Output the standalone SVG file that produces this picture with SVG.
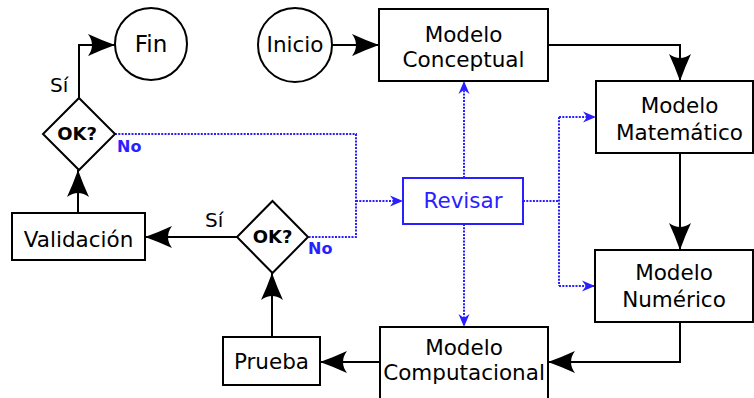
<svg xmlns="http://www.w3.org/2000/svg" width="754" height="398" viewBox="0 0 754 398">
<style>
text{font-family:"DejaVu Sans","Liberation Sans",sans-serif;text-anchor:middle}
.t{font-size:21.5px;fill:#000}
.b{fill:#fff;stroke:#000;stroke-width:2}
.bl{fill:#fff;stroke:#2a1fff;stroke-width:2}
.c{fill:none;stroke:#000;stroke-width:2}
.d{fill:none;stroke:#2a1fff;stroke-width:2;stroke-dasharray:2 1.3}
.ok{font-size:18px;font-weight:bold}
.no{font-size:16px;font-weight:bold;fill:#2a1fff;text-anchor:start}
.si{font-size:20px;text-anchor:start}
</style>
<defs>
<marker id="ab" markerUnits="userSpaceOnUse" markerWidth="30" markerHeight="26" viewBox="-28 -13 30 26" refX="0" refY="0" orient="auto">
<path d="M0,0 Q-14,-5 -27,-11 Q-19,0 -27,11 Q-14,5 0,0 Z" fill="#000"/>
</marker>
<marker id="au" markerUnits="userSpaceOnUse" markerWidth="16" markerHeight="14" viewBox="-14 -7 15 14" refX="0" refY="0" orient="auto">
<path d="M0,0 L-13,-5.5 L-9,0 L-13,5.5 Z" fill="#2a1fff"/>
</marker>
</defs>
<g id="connectors">
<path class="c" d="M332,45 H379" marker-end="url(#ab)"/>
<path class="c" d="M548,45 H680 V81" marker-end="url(#ab)"/>
<path class="c" d="M680,153 V250" marker-end="url(#ab)"/>
<path class="c" d="M680,322 V362 H548" marker-end="url(#ab)"/>
<path class="c" d="M380,362 H320" marker-end="url(#ab)"/>
<path class="c" d="M272,337 V273" marker-end="url(#ab)"/>
<path class="c" d="M237,237 H145" marker-end="url(#ab)"/>
<path class="c" d="M78,213 V170" marker-end="url(#ab)"/>
<path class="c" d="M79,98 V45 H115" marker-end="url(#ab)"/>
<path class="d" d="M115,134 H356 V237 H308"/>
<path class="d" d="M356,201 H403" marker-end="url(#au)"/>
<path class="d" d="M464,178 V81" marker-end="url(#au)"/>
<path class="d" d="M464,224 V327" marker-end="url(#au)"/>
<path class="d" d="M523,201 H559 M559,117 V286"/>
<path class="d" d="M559,117 H596" marker-end="url(#au)"/>
<path class="d" d="M559,286 H595" marker-end="url(#au)"/>
</g>
<g id="inicio">
<circle class="b" cx="295" cy="45" r="37"/>
<text class="t" x="295" y="52">Inicio</text>
</g>
<g id="fin">
<circle class="b" cx="151" cy="44" r="36"/>
<text class="t" x="151" y="52" style="font-size:23px">Fin</text>
</g>
<g id="conceptual">
<rect class="b" x="379" y="9" width="169" height="72"/>
<text class="t" x="463.5" y="42">Modelo</text>
<text class="t" x="463.5" y="67" textLength="122" lengthAdjust="spacingAndGlyphs">Conceptual</text>
</g>
<g id="matematico">
<rect class="b" x="596" y="81" width="157" height="72"/>
<text class="t" x="679.5" y="113">Modelo</text>
<text class="t" x="679.5" y="140">Matemático</text>
</g>
<g id="numerico">
<rect class="b" x="595" y="250" width="158" height="72"/>
<text class="t" x="674" y="280">Modelo</text>
<text class="t" x="674" y="307">Numérico</text>
</g>
<g id="computacional">
<rect class="b" x="380" y="327" width="168" height="72"/>
<text class="t" x="464" y="355">Modelo</text>
<text class="t" x="464" y="380">Computacional</text>
</g>
<g id="revisar">
<rect class="bl" x="403" y="178" width="120" height="46"/>
<text class="t" x="463" y="208" style="fill:#2a1fff">Revisar</text>
</g>
<g id="prueba">
<rect class="b" x="223" y="337" width="97" height="48"/>
<text class="t" x="271.5" y="369">Prueba</text>
</g>
<g id="validacion">
<rect class="b" x="12" y="213" width="133" height="47"/>
<text class="t" x="78.5" y="247">Validación</text>
</g>
<g id="ok2">
<polygon class="b" points="272.5,201 308,237 272.5,273 237,237"/>
<text class="ok" x="272.5" y="243">OK?</text>
<text class="no" x="308" y="254">No</text>
<text class="si" x="205" y="227">Sí</text>
</g>
<g id="ok1">
<polygon class="b" points="79,98 115,134 79,170 43,134"/>
<text class="ok" x="77" y="140">OK?</text>
<text class="no" x="117" y="152">No</text>
<text class="si" x="50" y="92">Sí</text>
</g>
</svg>
